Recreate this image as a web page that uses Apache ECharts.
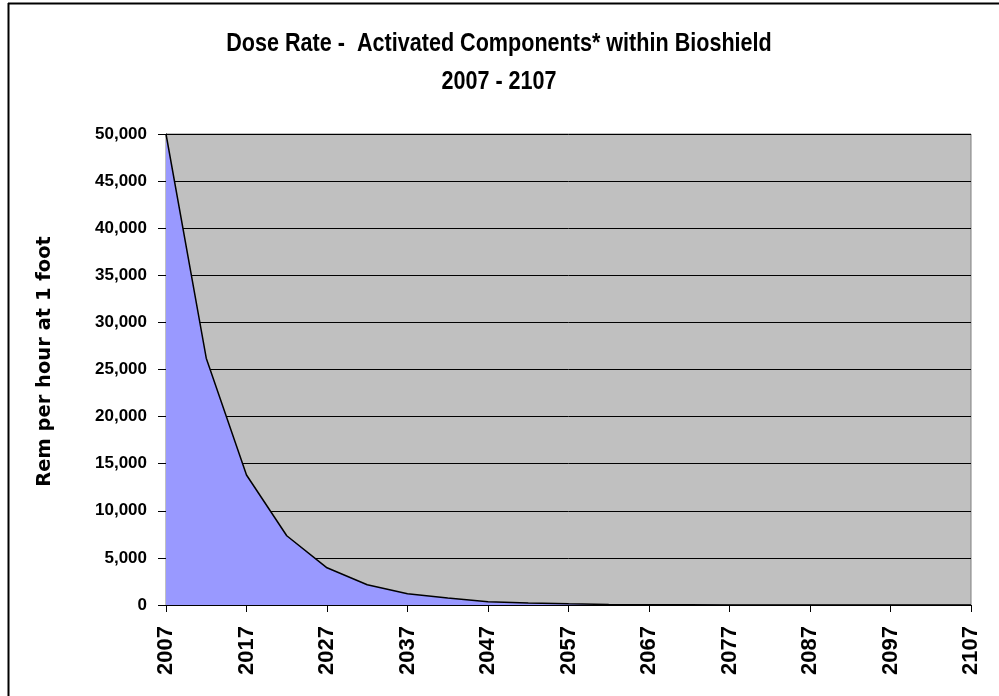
<!DOCTYPE html>
<html>
<head>
<meta charset="utf-8">
<script src="https://cdn.jsdelivr.net/npm/echarts@6/dist/echarts.min.js"></script>
<style>html,body{margin:0;padding:0;background:#fff}#c{width:999px;height:696px}</style>
</head>
<body>
<div id="c"></div>
<script>
var years = ['2007','2012','2017','2022','2027','2032','2037','2042','2047','2052','2057','2062','2067','2072','2077','2082','2087','2092','2097','2102','2107'];
var doseRate = [50000, 26200, 13800, 7350, 3950, 2150, 1200, 750, 350, 200, 120, 60, 30, 15, 8, 4, 2, 1, 0.5, 0.3, 0.1];
var titleLines = ['Dose Rate -  Activated Components* within Bioshield', '2007 - 2107'];
var yAxisTitle = 'Rem per hour at 1 foot';

var titleFont = {fontFamily: 'Liberation Sans, Arial', fontWeight: 'bold', fontSize: 26, fill: '#000', textAlign: 'center', textVerticalAlign: 'middle'};

var chart = echarts.init(document.getElementById('c'), null, {renderer: 'canvas'});
chart.setOption({
  animation: false,
  backgroundColor: '#fff',
  graphic: [
    {type: 'line', shape: {x1: 8, y1: 3.5, x2: 999, y2: 3.5}, style: {stroke: '#000', lineWidth: 2}},
    {type: 'line', shape: {x1: 8.5, y1: 3, x2: 8.5, y2: 696}, style: {stroke: '#000', lineWidth: 2}},
    {type: 'group', x: 499, y: 0, scaleX: 0.83, children: [
      {type: 'text', x: 0, y: 44, style: Object.assign({text: titleLines[0]}, titleFont)},
      {type: 'text', x: 0, y: 82, style: Object.assign({text: titleLines[1]}, titleFont)}
    ]}
  ],
  grid: {left: 166, right: 28, top: 134, bottom: 91, show: true, backgroundColor: '#C0C0C0', borderColor: '#808080', borderWidth: 1},
  xAxis: {
    type: 'category',
    data: years,
    boundaryGap: false,
    axisLine: {lineStyle: {color: '#000', width: 1}},
    axisTick: {interval: 1, length: 7, lineStyle: {color: '#000'}},
    axisLabel: {interval: 1, rotate: 90, margin: 21, fontFamily: 'Liberation Sans, Arial', fontWeight: 'bold', fontSize: 22, color: '#000'},
    splitLine: {show: false}
  },
  yAxis: {
    type: 'value',
    min: 0, max: 50000, interval: 5000,
    name: yAxisTitle,
    nameLocation: 'middle',
    nameGap: 111,
    nameTextStyle: {fontFamily: 'DejaVu Sans', fontWeight: 'bold', fontSize: 19.5, color: '#000', padding: [0, 0, 0, 16]},
    axisLine: {show: true, lineStyle: {color: '#000', width: 1}},
    axisTick: {show: true, length: 8, lineStyle: {color: '#000'}},
    axisLabel: {margin: 19, fontFamily: 'Liberation Sans, Arial', fontWeight: 'bold', fontSize: 17, color: '#000',
      formatter: function (v) { return v.toLocaleString('en-US'); }},
    splitLine: {show: true, lineStyle: {color: '#000', width: 1}}
  },
  series: [{
    type: 'line',
    data: doseRate,
    symbol: 'none',
    lineStyle: {color: '#000', width: 1.5},
    areaStyle: {color: '#9999FF', opacity: 1}
  }]
});
</script>
</body>
</html>
